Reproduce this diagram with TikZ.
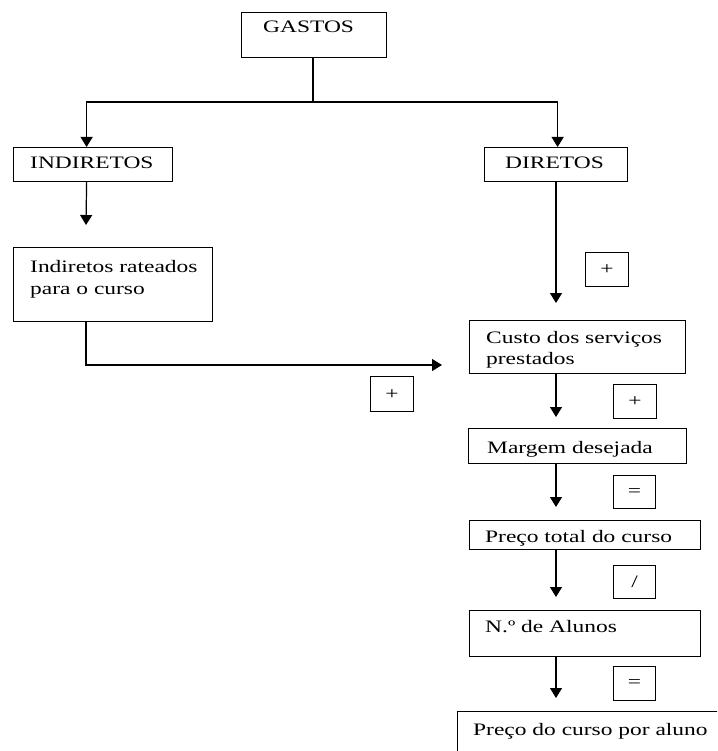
\documentclass[tikz,border=0pt]{standalone}
\usepackage{fontspec}
\setmainfont{Liberation Serif}[FakeStretch=1.34]
\usetikzlibrary{arrows.meta}
\begin{document}
\begin{tikzpicture}[x=1pt,y=-1pt,
  box/.style={draw, line width=1.2pt, inner sep=0pt, anchor=north west},
  txt/.style={inner sep=0pt, anchor=base west, font=\fontsize{17.5}{22}\selectfont, align=left},
  sign/.style={draw, line width=1.2pt, inner sep=0pt, anchor=north west},
  signtxt/.style={font=\fontsize{17.5}{22}\selectfont, inner sep=0pt},
  arr/.style={line width=1.2pt, -{Triangle[width=12pt,length=10pt]}},
  ln/.style={line width=1.2pt}]
\useasboundingbox (0,0) rectangle (717,751);
\clip (0,0) rectangle (717,751);
% boxes
\node[box, minimum width=145pt, minimum height=45pt] (gastos) at (241,12) {};
\node[box, minimum width=159pt, minimum height=34pt] (indir) at (13,147) {};
\node[box, minimum width=143pt, minimum height=34pt] (dir) at (484,147) {};
\node[box, minimum width=199pt, minimum height=74pt] (rat) at (13,247) {};
\node[box, minimum width=216pt, minimum height=53pt] (custo) at (469,320) {};
\node[box, minimum width=218pt, minimum height=35pt] (marg) at (468,428) {};
\node[box, minimum width=231pt, minimum height=29pt] (ptot) at (469,520) {};
\node[box, minimum width=231pt, minimum height=46pt] (alun) at (469,610) {};
\node[box, minimum width=300pt, minimum height=80pt] (final) at (457,711) {};
% texts
\node[txt] (tg) at (263,33) {GASTOS};
\node[txt] (ti) at (30,169) {INDIRETOS};
\node[txt] (td) at (505,169) {DIRETOS};
\node[txt] (tr) at (30,294) {Indiretos rateados\\para o curso};
\node[txt, font=\fontsize{17.5}{21}\selectfont] (tc) at (486,364) {Custo dos serviços\\prestados};
\node[txt] (tm) at (487,453) {Margem desejada};
\node[txt] (tp) at (485,542) {Preço total do curso};
\node[txt] (ta) at (485,632) {N.º de Alunos};
\node[txt] (tf) at (473,735) {Preço do curso por aluno};
% sign boxes
\node[sign, minimum width=43pt, minimum height=34pt] (s1) at (585,252) {};
\node[signtxt] at (s1.center) {+};
\node[sign, minimum width=43pt, minimum height=35pt] (s2) at (370,376) {};
\node[signtxt] at (s2.center) {+};
\node[sign, minimum width=43pt, minimum height=34pt] (s3) at (613,384) {};
\node[signtxt] at (s3.center) {+};
\node[sign, minimum width=42pt, minimum height=33pt] (s4) at (613,475) {};
\node[signtxt] at (s4.center) {=};
\node[sign, minimum width=42pt, minimum height=33pt] (s5) at (613,565) {};
\node[signtxt] at (s5.center) {/};
\node[sign, minimum width=42pt, minimum height=34pt] (s6) at (613,666) {};
\node[signtxt] at (s6.center) {=};
% connectors
\coordinate (split) at (313,102);
\coordinate (a1) at (86,225);
\coordinate (bend) at (86,365);
\coordinate (a2) at (442,365);
\coordinate (a3) at (556,303);
\coordinate (a4) at (556,417);
\coordinate (a5) at (556,507);
\coordinate (a6) at (556,597);
\coordinate (a7) at (556,698);
\draw[ln] (gastos.south -| split) -- (split);
\draw[arr] (split) -| ([xshift=-6.5pt]indir.north);
\draw[arr] (split) -| ([xshift=1.5pt]dir.north);
\draw[arr] ([xshift=-6.5pt]indir.south) -- (a1);
\draw[arr] (rat.south -| bend) -- (bend) -- (a2);
\draw[arr] (dir.south -| a3) -- (a3);
\draw[arr] (custo.south -| a4) -- (a4);
\draw[arr] (marg.south -| a5) -- (a5);
\draw[arr] (ptot.south -| a6) -- (a6);
\draw[arr] (alun.south -| a7) -- (a7);
\end{tikzpicture}
\end{document}
